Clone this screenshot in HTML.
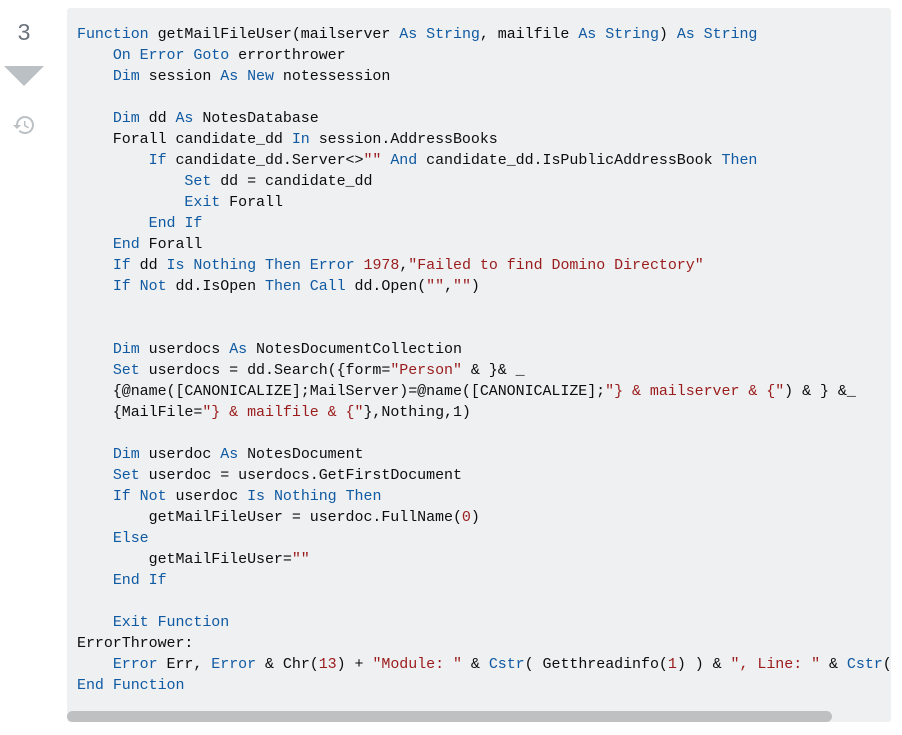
<!DOCTYPE html>
<html><head><meta charset="utf-8"><style>
body{margin:0;background:#fff;width:902px;height:735px;overflow:hidden;position:relative;font-family:"Liberation Sans",sans-serif}
.num{position:absolute;left:0;width:48px;top:19px;text-align:center;font-size:23px;color:#6a737c}
.tri{position:absolute;left:4px;top:66px;width:0;height:0;border-left:20px solid transparent;border-right:20px solid transparent;border-top:20px solid #bbc0c4}
.hist{position:absolute;left:12px;top:113px}
.code{position:absolute;left:67px;top:8px;width:824px;height:714px;background:#eff0f1;border-radius:3px;overflow:hidden}
pre{margin:0;position:absolute;left:10px;top:16px;font-family:"Liberation Mono",monospace;font-size:15px;letter-spacing:-0.05px;line-height:21px;color:#0c0d0e;white-space:pre}
.k{color:#0f5aa3}.s{color:#9a1c1c}
.sb{position:absolute;left:0;top:703px;width:765px;height:11px;background:#bfc0c1;border-radius:6px}
</style></head><body>
<div class="num">3</div>
<div class="tri"></div>
<svg class="hist" width="24" height="24" viewBox="0 0 24 24"><path d="M13 3a9 9 0 0 0-9 9H1l4 4 4-4H6a7 7 0 1 1 2.05 4.950l-1.42 1.42A9 9 0 1 0 13 3zm-1 5v5l4.25 2.52.77-1.28-3.52-2.09V8z" fill="#bbc0c4"/></svg>
<div class="code"><pre><span class="k">Function</span> getMailFileUser(mailserver <span class="k">As</span> <span class="k">String</span>, mailfile <span class="k">As</span> <span class="k">String</span>) <span class="k">As</span> <span class="k">String</span>
    <span class="k">On</span> <span class="k">Error</span> <span class="k">Goto</span> errorthrower
    <span class="k">Dim</span> session <span class="k">As</span> <span class="k">New</span> notessession

    <span class="k">Dim</span> dd <span class="k">As</span> NotesDatabase
    Forall candidate_dd <span class="k">In</span> session.AddressBooks
        <span class="k">If</span> candidate_dd.Server&lt;&gt;<span class="s">""</span> <span class="k">And</span> candidate_dd.IsPublicAddressBook <span class="k">Then</span>
            <span class="k">Set</span> dd = candidate_dd
            <span class="k">Exit</span> Forall
        <span class="k">End</span> <span class="k">If</span>
    <span class="k">End</span> Forall
    <span class="k">If</span> dd <span class="k">Is</span> <span class="k">Nothing</span> <span class="k">Then</span> <span class="k">Error</span> <span class="s">1978</span>,<span class="s">"Failed to find Domino Directory"</span>
    <span class="k">If</span> <span class="k">Not</span> dd.IsOpen <span class="k">Then</span> <span class="k">Call</span> dd.Open(<span class="s">""</span>,<span class="s">""</span>)


    <span class="k">Dim</span> userdocs <span class="k">As</span> NotesDocumentCollection
    <span class="k">Set</span> userdocs = dd.Search({form=<span class="s">"Person"</span> &amp; }&amp; _
    {@name([CANONICALIZE];MailServer)=@name([CANONICALIZE];<span class="s">"} &amp; mailserver &amp; {"</span>) &amp; } &amp;_
    {MailFile=<span class="s">"} &amp; mailfile &amp; {"</span>},Nothing,1)

    <span class="k">Dim</span> userdoc <span class="k">As</span> NotesDocument
    <span class="k">Set</span> userdoc = userdocs.GetFirstDocument
    <span class="k">If</span> <span class="k">Not</span> userdoc <span class="k">Is</span> <span class="k">Nothing</span> <span class="k">Then</span>
        getMailFileUser = userdoc.FullName(<span class="s">0</span>)
    <span class="k">Else</span>
        getMailFileUser=<span class="s">""</span>
    <span class="k">End</span> <span class="k">If</span>

    <span class="k">Exit</span> <span class="k">Function</span>
ErrorThrower:
    <span class="k">Error</span> Err, <span class="k">Error</span> &amp; Chr(<span class="s">13</span>) + <span class="s">"Module: "</span> &amp; <span class="k">Cstr</span>( Getthreadinfo(<span class="s">1</span>) ) &amp; <span class="s">", Line: "</span> &amp; <span class="k">Cstr</span>( Getthreadinfo(<span class="s">4</span>) )
<span class="k">End</span> <span class="k">Function</span></pre>
<div class="sb"></div></div>
</body></html>
